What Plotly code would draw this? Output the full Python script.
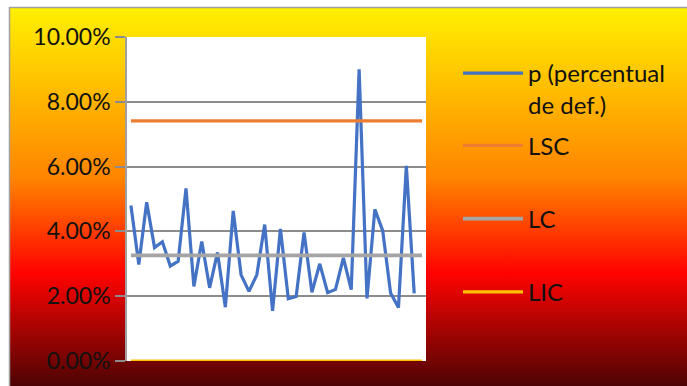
import base64
import plotly.graph_objects as go

# Proportion defective per sample (fraction), one point per sample
samples = list(range(1, 39))
p_values = [0.0480, 0.0298, 0.0490, 0.0350, 0.0368, 0.0293, 0.0308, 0.0533,
            0.0230, 0.0369, 0.0226, 0.0335, 0.0166, 0.0463, 0.0266, 0.0215,
            0.0266, 0.0421, 0.0155, 0.0408, 0.0192, 0.0199, 0.0397, 0.0212,
            0.0300, 0.0211, 0.0221, 0.0318, 0.0220, 0.0900, 0.0193, 0.0468,
            0.0402, 0.0210, 0.0165, 0.0602, 0.0209, None]

# Control limits
lsc_value = 0.0741   # upper control limit
lc_value = 0.0326    # center line
lic_value = 0.0      # lower control limit
lsc = [lsc_value] * len(samples)
lc = [lc_value] * len(samples)
lic = [lic_value] * len(samples)

y_ticks = [0.0, 0.02, 0.04, 0.06, 0.08, 0.10]

FONT = "Lato"

# "Fire" style vertical gradient for the chart background
svg = (
    '<svg xmlns="http://www.w3.org/2000/svg" width="100" height="100" '
    'viewBox="0 0 100 100" preserveAspectRatio="none">'
    '<defs><linearGradient id="g" x1="0" y1="0" x2="0" y2="1">'
    '<stop offset="0" stop-color="#FFF000"/>'
    '<stop offset="0.45" stop-color="#FF8400"/>'
    '<stop offset="0.70" stop-color="#FF0300"/>'
    '<stop offset="1" stop-color="#4D0404"/>'
    '</linearGradient></defs>'
    '<rect x="0" y="0" width="100" height="100" fill="url(#g)"/></svg>'
)
bg_src = "data:image/svg+xml;base64," + base64.b64encode(svg.encode()).decode()

W, H = 687, 386
L, R, T, B = 127, 261, 37, 25
pw, ph = W - L - R, H - T - B


def px_x(v):
    return (v - L) / pw


def px_y(v):
    return (H - B - v) / ph


fig = go.Figure()
fig.add_trace(go.Scatter(x=samples, y=p_values, mode="lines",
                         name="p (percentual<br>de def.)",
                         line=dict(color="#4472C4", width=3.2),
                         legend="legend"))
fig.add_trace(go.Scatter(x=samples, y=lsc, mode="lines", name="LSC",
                         line=dict(color="#ED7D31", width=3.2),
                         legend="legend2"))
fig.add_trace(go.Scatter(x=samples, y=lc, mode="lines", name="LC",
                         line=dict(color="#A5A5A5", width=3.6),
                         legend="legend3"))
fig.add_trace(go.Scatter(x=samples, y=lic, mode="lines", name="LIC",
                         line=dict(color="#FFC000", width=3.2),
                         legend="legend4"))

legend_common = dict(
    xanchor="left", yanchor="middle",
    bgcolor="rgba(0,0,0,0)", borderwidth=0,
    font=dict(family=FONT, size=24, color="#111111"),
    valign="top", itemwidth=60, itemclick=False,
)
legend_x = px_x(458)

fig.update_layout(
    width=W, height=H,
    margin=dict(l=L, r=R, t=T, b=B),
    paper_bgcolor="white",
    plot_bgcolor="white",
    showlegend=True,
    legend=dict(x=legend_x, y=px_y(89), **legend_common),
    legend2=dict(x=legend_x, y=px_y(145.7), **legend_common),
    legend3=dict(x=legend_x, y=px_y(219), **legend_common),
    legend4=dict(x=legend_x, y=px_y(292.3), **legend_common),
    xaxis=dict(range=[0.5, 38.5], showgrid=False, zeroline=False,
               showticklabels=False, ticks="", showline=False),
    yaxis=dict(range=[0, 0.10], tickvals=y_ticks, tickformat=".2%",
               showgrid=True, gridcolor="#8C8C8C", gridwidth=1.6,
               zeroline=False, showline=True, linecolor="#A0A0A0",
               linewidth=1.6, ticks="outside", ticklen=10,
               tickcolor="#8C8C8C", tickwidth=1.6,
               tickfont=dict(family=FONT, size=23, color="#111111")),
    images=[dict(source=bg_src, xref="paper", yref="paper",
                 x=px_x(10), y=px_y(8), sizex=(W - 10) / pw,
                 sizey=(H - 8) / ph, xanchor="left", yanchor="top",
                 sizing="stretch", layer="below")],
    shapes=[
        # frame edge of the chart area
        dict(type="rect", xref="paper", yref="paper",
             x0=px_x(9.5), x1=px_x(W + 5), y0=px_y(H + 5), y1=px_y(7.5),
             line=dict(color="#A0A0A0", width=1.5), fillcolor="rgba(0,0,0,0)",
             layer="below"),
        # white plot area
        dict(type="rect", xref="paper", yref="paper",
             x0=0, x1=1, y0=0, y1=1, line=dict(width=0),
             fillcolor="white", layer="below"),
    ],
)

fig.write_html("out.html")
